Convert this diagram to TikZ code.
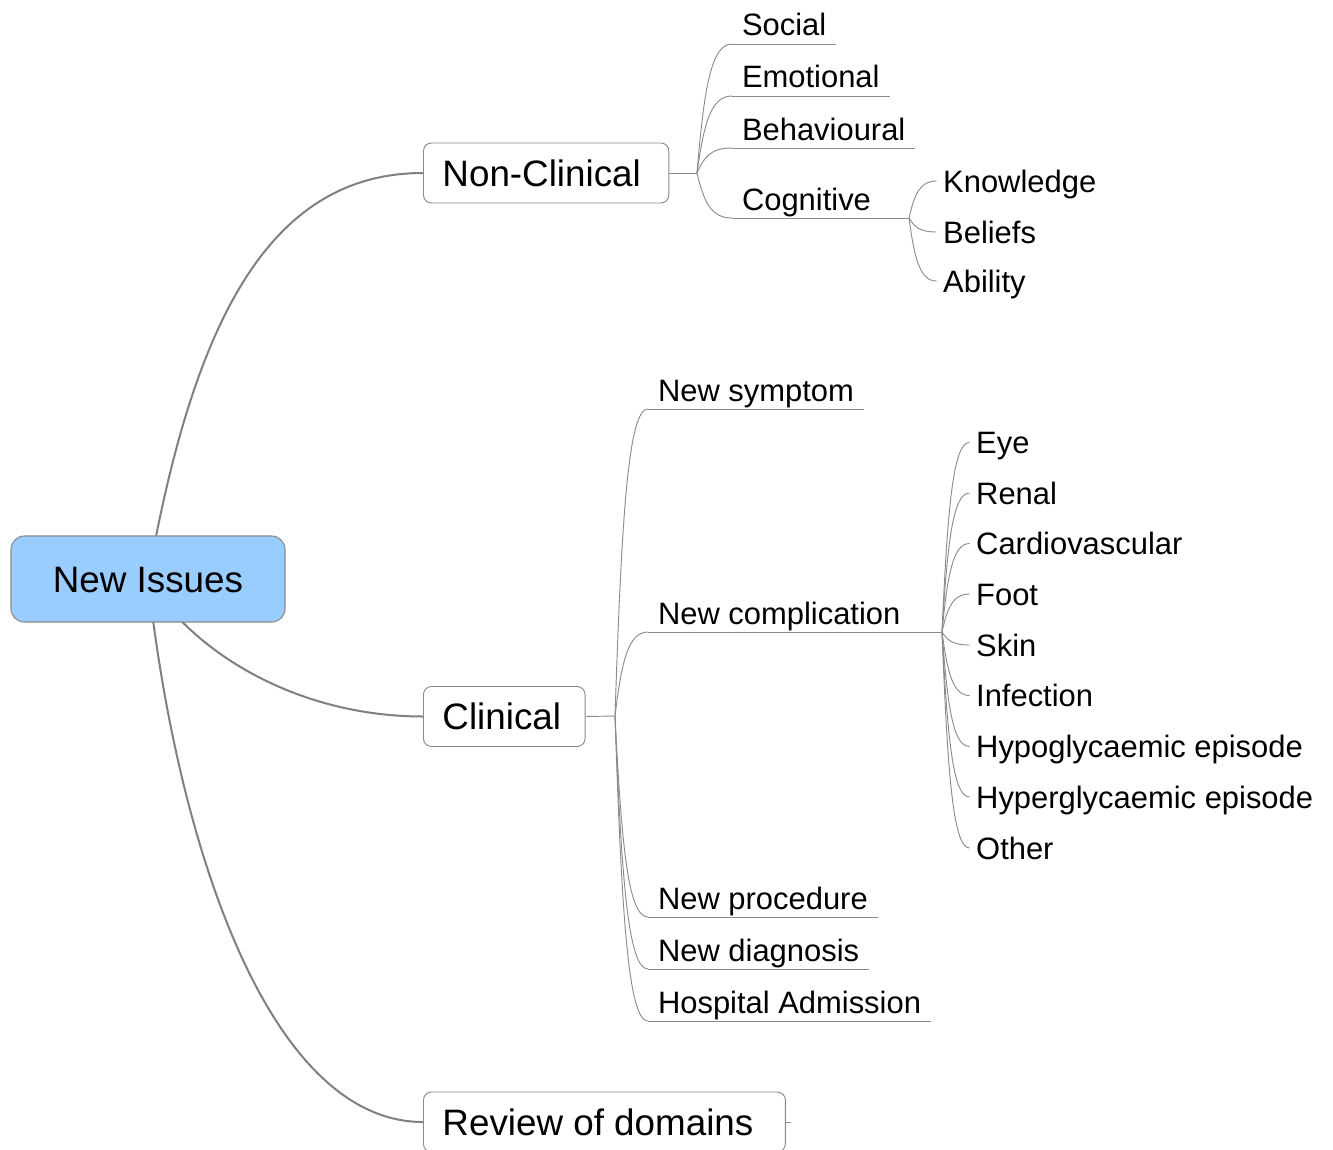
\documentclass[tikz,border=0pt]{standalone}
\usepackage{fontspec}
\setmainfont{Liberation Sans}
\usetikzlibrary{calc,backgrounds}

\definecolor{rootfill}{HTML}{99CCFF}
\definecolor{edgegray}{HTML}{808080}
\definecolor{thingray}{HTML}{8C8C8C}
\definecolor{boxgray}{HTML}{8A8A8A}

\tikzset{
  rootbox/.style={draw=boxgray, line width=0.8pt, fill=rootfill, rounded corners=10pt,
    minimum width=205.5pt, minimum height=64.5pt, font=\fontsize{27.6}{30}\selectfont,
    text height=19.8pt, text depth=0pt},
  topicbox/.style={anchor=west, draw=boxgray, line width=0.7pt, fill=white, rounded corners=6pt,
    inner xsep=14.25pt, minimum height=45pt, font=\fontsize{27.6}{30}\selectfont,
    text height=19.8pt, text depth=0pt},
  leaf/.style={anchor=base west, inner xsep=7.5pt, inner ysep=6pt, outer sep=0pt,
    text depth=0pt, font=\fontsize{23.2}{26}\selectfont,
    append after command={(\tikzlastnode.south west) edge[twigline] (\tikzlastnode.south east)}},
  twig/.style={anchor=west, inner xsep=5pt, outer sep=0pt,
    text height=16.6pt, text depth=0pt, font=\fontsize{23.2}{26}\selectfont},
  mainline/.style={draw=edgegray, line width=1.5pt},
  twigline/.style={draw=thingray, line width=0.7pt},
}

% curved branch that leaves a junction steeply and arrives horizontally
\newcommand\branchto[2]{%
  \draw[twigline] let \p1=(#1), \p2=(#2) in
    (\p1) .. controls ({\x1+0.2*(\x2-\x1)},{\y1+0.65*(\y2-\y1)})
          and ({\x1+0.4*(\x2-\x1)},\y2) .. (\p2);}

\begin{document}
\begin{tikzpicture}[x=0.75pt,y=-0.75pt]
\useasboundingbox (0,0) rectangle (1333,1149);

% main topics
\node[rootbox] (issues) at (148,579) {New Issues};
\node[topicbox] (nonclin) at (423,173) {Non-Clinical\kern6.75pt};
\node[topicbox] (clin) at (423,716.5) {Clinical\kern3.75pt};
\node[topicbox] (review) at (423,1122) {Review of domains\kern9.75pt};

\begin{scope}[on background layer]
  \fill[white] (0,0) rectangle (1333,1149);
  \draw[mainline] (issues.center) .. controls (192,330) and (265,173) .. (nonclin.west);
  \draw[mainline] (issues.center) .. controls (195,655) and (300,716.5) .. (clin.west);
  \draw[mainline] (issues.center) .. controls (178,850) and (270,1122) .. (review.west);
\end{scope}
\coordinate (revtip) at (791,1122);
\draw[twigline] (review.east) -- (revtip);

% non-clinical branch
\coordinate (ncj) at (697,173);
\draw[twigline] (nonclin.east) -- (ncj);
\node[leaf] (social) at (732,36) {Social};
\node[leaf] (emotional) at (732,88) {Emotional};
\node[leaf] (behavioural) at (732,140) {Behavioural};
\node[leaf] (cognitive) at (732,210) {Cognitive};
\foreach \k in {social,emotional,behavioural,cognitive}
  \branchto{ncj}{\k.south west};

\coordinate (cogj) at (909,218);
\draw[twigline] (cognitive.south east) -- (cogj);
\node[twig] (knowledge) at (936.5,181) {Knowledge};
\node[twig] (beliefs) at (936.5,232) {Beliefs};
\node[twig] (ability) at (936.5,281) {Ability};
\foreach \k in {knowledge,beliefs,ability}
  \branchto{cogj}{\k.west};

% clinical branch
\coordinate (cj) at (615,716);
\draw[twigline] (clin.east) -- (cj);
\node[leaf] (symptom) at (648,401) {New symptom};
\node[leaf] (complication) at (648,624) {New complication};
\node[leaf] (procedure) at (648,909) {New procedure};
\node[leaf] (diagnosis) at (648,961) {New diagnosis};
\node[leaf] (admission) at (648,1013) {Hospital Admission};
\foreach \k in {symptom,complication,procedure,diagnosis,admission}
  \branchto{cj}{\k.south west};

\coordinate (compj) at (942,632);
\draw[twigline] (complication.south east) -- (compj);
\node[twig] (eye) at (969.5,442.5) {Eye};
\node[twig] (renal) at (969.5,493) {Renal};
\node[twig] (cardio) at (969.5,543.5) {Cardiovascular};
\node[twig] (foot) at (969.5,594) {Foot};
\node[twig] (skin) at (969.5,645) {Skin};
\node[twig] (infection) at (969.5,695.5) {Infection};
\node[twig] (hypo) at (969.5,746.5) {Hypoglycaemic episode};
\node[twig] (hyper) at (969.5,797) {Hyperglycaemic episode};
\node[twig] (other) at (969.5,848) {Other};
\foreach \k in {eye,renal,cardio,foot,skin,infection,hypo,hyper,other}
  \branchto{compj}{\k.west};
\end{tikzpicture}
\end{document}
